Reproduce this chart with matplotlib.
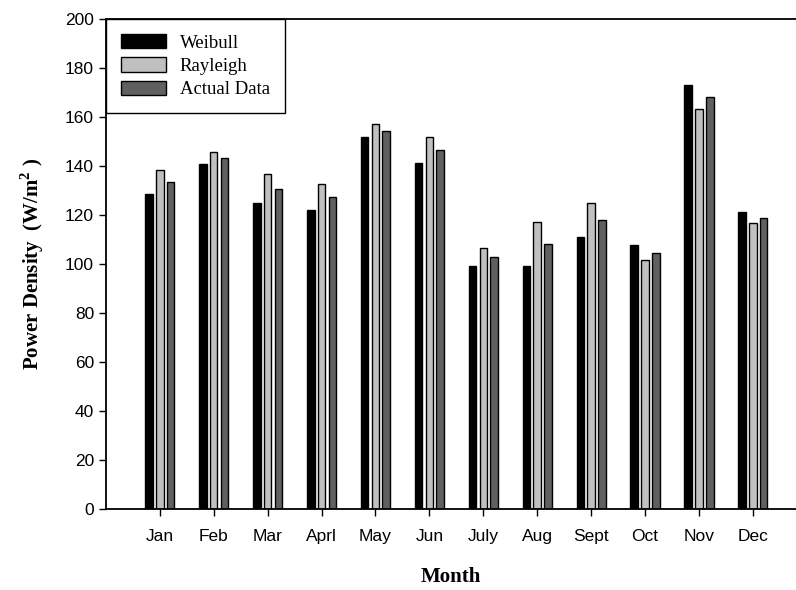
import matplotlib
matplotlib.use("Agg")
import matplotlib.pyplot as plt
import numpy as np

months = ["Jan", "Feb", "Mar", "Aprl", "May", "Jun", "July", "Aug", "Sept", "Oct", "Nov", "Dec"]
weibull = [128.6, 140.7, 124.6, 122.0, 151.8, 141.2, 99.0, 99.0, 111.0, 107.5, 172.9, 121.0]
rayleigh = [138.1, 145.6, 136.6, 132.5, 157.0, 151.7, 106.5, 117.2, 124.9, 101.5, 163.0, 116.5]
actual = [133.3, 143.1, 130.6, 127.3, 154.3, 146.5, 102.6, 108.0, 118.0, 104.5, 168.0, 118.7]

plt.rcParams['mathtext.fontset'] = 'custom'
plt.rcParams['mathtext.bf'] = 'Liberation Serif:bold'
plt.rcParams['mathtext.rm'] = 'Liberation Serif'

fig = plt.figure(figsize=(7.96, 5.90), dpi=100)
ax = fig.add_axes([0.133, 0.138, 0.867, 0.830])

x = np.arange(len(months))
w = 0.14
ax.bar(x - 0.2, weibull, w, color="black", edgecolor="black", linewidth=1, label="Weibull")
ax.bar(x, rayleigh, w, color="#c0c0c0", edgecolor="black", linewidth=1, label="Rayleigh")
ax.bar(x + 0.2, actual, w, color="#606060", edgecolor="black", linewidth=1, label="Actual Data")

ax.set_xlim(-1.0, 11.8)
ax.set_ylim(0, 200)
ax.set_yticks(np.arange(0, 201, 20))
ax.set_xticks(x)
ax.set_xticklabels(months)
ax.spines['right'].set_visible(False)
for s in ['top', 'bottom', 'left']:
    ax.spines[s].set_linewidth(1.3)
ax.tick_params(axis='both', direction='out', length=5, width=1, labelsize=12.5)
for lbl in ax.get_xticklabels() + ax.get_yticklabels():
    lbl.set_family('Liberation Sans')
ax.tick_params(axis='x', pad=10)

ax.set_xlabel("Month", family='Liberation Serif', fontweight='bold', fontsize=15, labelpad=16)
ax.set_ylabel(r"Power Density  (W/m$^{\mathbf{2}}$ )", family='Liberation Serif', fontweight='bold', fontsize=15, labelpad=14)

leg = ax.legend(loc='upper left', bbox_to_anchor=(0.0, 1.0), fancybox=False, framealpha=1,
                edgecolor='black', prop={'family': 'Liberation Serif', 'size': 13.5},
                handlelength=2.4, handleheight=0.8, borderaxespad=0.0, borderpad=0.8,
                labelspacing=0.3, handletextpad=0.75)
leg.get_frame().set_linewidth(1.0)

fig.savefig("out.png", dpi=100)
